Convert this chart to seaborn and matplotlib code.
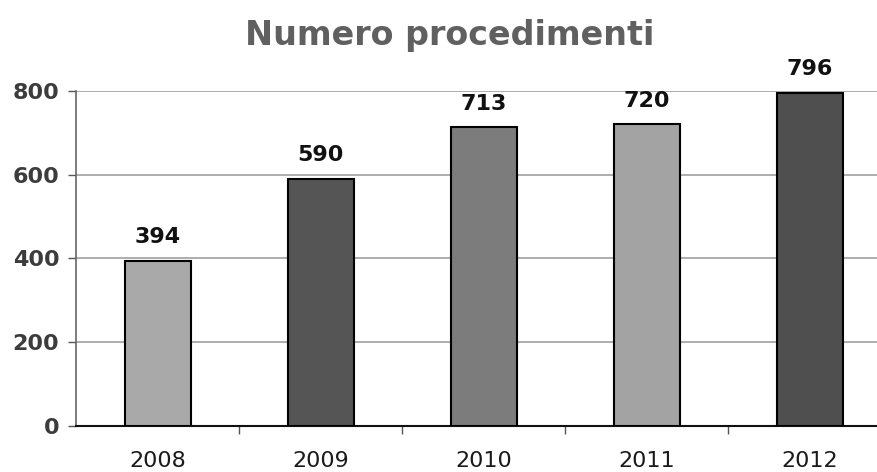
import matplotlib
matplotlib.use("Agg")
import matplotlib.pyplot as plt
import seaborn as sns

years = ["2008", "2009", "2010", "2011", "2012"]
values = [394, 590, 713, 720, 796]
colors = ["#a9a9a9", "#555555", "#7c7c7c", "#a3a3a3", "#4f4f4f"]
yticks = [0, 200, 400, 600, 800]

sns.set_theme(style="white")
plt.rcParams['font.family'] = ['DejaVu Sans']

fig = plt.figure(figsize=(8.78, 4.72), dpi=100)
ax = fig.add_axes([0.0866, 0.0975, 0.9134, 0.7097])

sns.barplot(x=years, y=values, hue=years, palette=colors, legend=False,
            width=0.405, edgecolor="black", linewidth=1.5, ax=ax, zorder=3)

ax.set_ylim(0, 800)
ax.set_xlim(-0.5, 4.42)
ax.set_yticks(yticks)
ax.set_yticklabels([str(v) for v in yticks], fontsize=16, fontweight="bold", color="#3c3c3c")
ax.set_xticks(range(len(years)))
ax.set_xticklabels(years, fontsize=16, color="#1a1a1a")
ax.tick_params(axis="x", length=0, pad=18)
ax.set_xticks([0.5, 1.5, 2.5, 3.5], minor=True)
ax.tick_params(axis="x", which="minor", length=6, width=1, color="#555555", direction="out", bottom=True)
ax.tick_params(axis="y", length=6, width=1, color="#555555", direction="out", left=True, pad=6)

ax.yaxis.grid(True, color="#a0a0a0", linewidth=1.2, zorder=0)
ax.set_axisbelow(True)
for s in ["top", "right"]:
    ax.spines[s].set_visible(False)
ax.spines["left"].set_color("#666666")
ax.spines["left"].set_linewidth(1.2)
ax.spines["bottom"].set_color("#111111")
ax.spines["bottom"].set_linewidth(1.5)
ax.set_xlabel("")
ax.set_ylabel("")

for i, v in enumerate(values):
    ax.annotate(str(v), (i, v), xytext=(0, 10), textcoords="offset points",
                ha="center", va="bottom", fontsize=16, fontweight="bold",
                color="#111111", annotation_clip=False)

fig.text(0.512, 0.925, "Numero procedimenti", ha="center", va="center",
         fontsize=24, fontweight="bold", color="#606060")

fig.savefig("out.png", dpi=100, facecolor="white")
